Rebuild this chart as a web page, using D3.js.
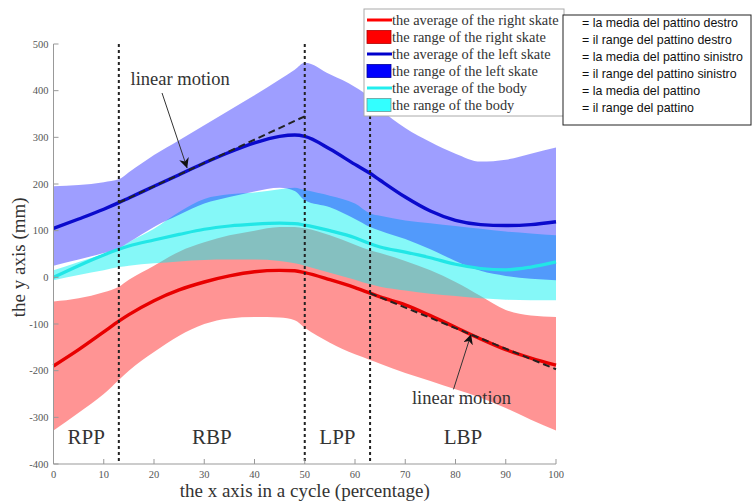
<!DOCTYPE html>
<html>
<head>
<meta charset="utf-8">
<script src="https://cdn.jsdelivr.net/npm/d3@7"></script>
<style>
  body { margin: 0; background: #fff; }
  svg { display: block; }
  .tick-label { font-family: "Liberation Serif", serif; font-size: 10.5px; fill: #555; }
  .title { font-family: "Liberation Serif", serif; font-size: 19px; fill: #333; }
  .phase { font-family: "Liberation Serif", serif; font-size: 21px; fill: #333; }
  .note { font-family: "Liberation Serif", serif; font-size: 18.5px; fill: #333; }
  .legend { font-family: "Liberation Serif", serif; font-size: 14.4px; fill: #333; }
  .trans { font-family: "Liberation Sans", sans-serif; font-size: 12.4px; fill: #111; }
</style>
</head>
<body>
<svg id="chart" width="753" height="504"></svg>
<script>
// percentage of the cycle
var xs = [0, 5, 10, 13, 15, 20, 25, 30, 35, 40, 45, 48, 50, 55, 60, 63, 65, 70, 75, 80, 85, 90, 95, 100];

// right skate (mm)
var rightAvg  = [-190, -155, -117, -94, -80, -50, -27, -10, 3, 12, 15, 14, 10, -5, -22, -34, -42, -59, -82, -107, -132, -155, -173, -188];
var rightHigh = [-52, -45, -32, -20, -5, 25, 55, 75, 90, 100, 108, 108, 105, 90, 70, 58, 52, 35, 15, -10, -40, -70, -82, -85];
var rightLow  = [-328, -290, -250, -220, -200, -160, -125, -100, -88, -85, -86, -92, -108, -140, -165, -177, -185, -205, -222, -240, -258, -280, -305, -328];

// left skate (mm)
var leftAvg  = [105, 125, 146, 160, 170, 195, 220, 245, 268, 288, 302, 305, 302, 275, 242, 223, 208, 172, 142, 122, 113, 111, 113, 119];
var leftHigh = [195, 198, 204, 210, 225, 262, 294, 326, 358, 390, 424, 445, 460, 435, 408, 385, 362, 320, 290, 265, 248, 252, 265, 278];
var leftLow  = [25, 38, 52, 62, 75, 108, 134, 158, 172, 184, 192, 185, 165, 150, 125, 108, 100, 82, 60, 35, 14, 3, -3, -6];

// body (mm)
var bodyAvg  = [0, 25, 48, 60, 67, 80, 92, 103, 110, 114, 116, 115, 112, 100, 85, 72, 65, 54, 42, 28, 19, 16, 22, 33];
var bodyHigh = [15, 33, 50, 62, 75, 104, 140, 168, 178, 182, 189, 192, 187, 175, 158, 137, 132, 122, 116, 110, 104, 98, 94, 90];
var bodyLow  = [-6, 5, 15, 22, 25, 30, 34, 37, 38, 38, 35, 30, 25, 10, -5, -15, -20, -28, -35, -40, -45, -48, -49, -49];

// phase boundaries and names
var phaseBounds = [13, 50, 63];
var phaseNames = ["RPP", "RBP", "LPP", "LBP"];
var phaseEdges = [0, 13, 50, 63, 100];

// linear motion fits
var fitLeft = [[13, 160], [50, 345]];
var fitRight = [[63, -34], [100, -197]];

var xTicks = [0, 10, 20, 30, 40, 50, 60, 70, 80, 90, 100];
var yTicks = [500, 400, 300, 200, 100, 0, -100, -200, -300, -400];

var legendItems = [
  {kind: "line", color: "#ff0000", label: "the average of the right skate"},
  {kind: "rect", color: "#ff0000", stroke: "#b00000", label: "the range of the right skate"},
  {kind: "line", color: "#0000cc", label: "the average of the left skate"},
  {kind: "rect", color: "#0000ff", stroke: "#000099", label: "the range of the left skate"},
  {kind: "line", color: "#22eeee", label: "the average of the body"},
  {kind: "rect", color: "#33ffff", stroke: "#6a9a9a", label: "the range of the body"}
];
var transItems = [
  "= la media del pattino destro",
  "= il range del pattino destro",
  "= la media del pattino sinistro",
  "= il range del pattino sinistro",
  "= la media del pattino",
  "= il range del pattino"
];

var svg = d3.select("#chart");

var x = d3.scaleLinear().domain([0, 100]).range([53.5, 556]);
var y = d3.scaleLinear().domain([-400, 500]).range([464, 44]);

function band(low, high) {
  return d3.area()
    .x(function(d, i) { return x(xs[i]); })
    .y0(function(d, i) { return y(low[i]); })
    .y1(function(d, i) { return y(high[i]); })
    .curve(d3.curveMonotoneX)(xs);
}
function avgLine(vals) {
  return d3.line()
    .x(function(d, i) { return x(xs[i]); })
    .y(function(d, i) { return y(vals[i]); })
    .curve(d3.curveMonotoneX)(xs);
}

// Range bands, red first so cyan and blue tint over it.
svg.append("path").attr("d", band(rightLow, rightHigh))
  .attr("fill", "#ff0000").attr("fill-opacity", 0.42);
svg.append("path").attr("d", band(bodyLow, bodyHigh))
  .attr("fill", "#00f0f0").attr("fill-opacity", 0.48);
svg.append("path").attr("d", band(leftLow, leftHigh))
  .attr("fill", "#0000ff").attr("fill-opacity", 0.38);

// Average lines.
svg.append("path").attr("d", avgLine(bodyAvg))
  .attr("fill", "none").attr("stroke", "#22e6e6").attr("stroke-width", 3.2);
svg.append("path").attr("d", avgLine(leftAvg))
  .attr("fill", "none").attr("stroke", "#0a0acc").attr("stroke-width", 3.4);
svg.append("path").attr("d", avgLine(rightAvg))
  .attr("fill", "none").attr("stroke", "#e80000").attr("stroke-width", 3.4);

// Linear motion fits.
[fitLeft, fitRight].forEach(function(f) {
  svg.append("line")
    .attr("x1", x(f[0][0])).attr("y1", y(f[0][1]))
    .attr("x2", x(f[1][0])).attr("y2", y(f[1][1]))
    .attr("stroke", "#222").attr("stroke-width", 2)
    .attr("stroke-dasharray", "7,4");
});

// Phase boundaries.
svg.selectAll(".phase-line").data(phaseBounds).enter().append("line")
  .attr("class", "phase-line")
  .attr("x1", function(d) { return x(d); })
  .attr("x2", function(d) { return x(d); })
  .attr("y1", y(500)).attr("y2", y(-400))
  .attr("stroke", "#222").attr("stroke-width", 2)
  .attr("stroke-dasharray", "3,3");

svg.selectAll(".phase").data(phaseNames).enter().append("text")
  .attr("class", "phase")
  .attr("x", function(d, i) { return x((phaseEdges[i] + phaseEdges[i + 1]) / 2); })
  .attr("y", y(-357))
  .attr("text-anchor", "middle")
  .text(function(d) { return d; });

// Axes.
var axisColor = "#999";
svg.append("line")
  .attr("x1", x(0)).attr("x2", x(0)).attr("y1", y(500)).attr("y2", y(-400))
  .attr("stroke", axisColor).attr("stroke-width", 1);
svg.append("line")
  .attr("x1", x(0)).attr("x2", x(100)).attr("y1", y(-400)).attr("y2", y(-400))
  .attr("stroke", axisColor).attr("stroke-width", 1);

svg.selectAll(".ytick").data(yTicks).enter().append("line")
  .attr("x1", x(0)).attr("x2", x(0) + 5)
  .attr("y1", function(d) { return y(d); }).attr("y2", function(d) { return y(d); })
  .attr("stroke", axisColor);
svg.selectAll(".ylab").data(yTicks).enter().append("text")
  .attr("class", "tick-label")
  .attr("x", x(0) - 5)
  .attr("y", function(d) { return y(d); })
  .attr("dy", "0.35em")
  .attr("text-anchor", "end")
  .text(function(d) { return d; });

svg.selectAll(".xtick").data(xTicks).enter().append("line")
  .attr("x1", function(d) { return x(d); }).attr("x2", function(d) { return x(d); })
  .attr("y1", y(-400)).attr("y2", y(-400) - 5)
  .attr("stroke", axisColor);
svg.selectAll(".xlab").data(xTicks).enter().append("text")
  .attr("class", "tick-label")
  .attr("x", function(d) { return x(d); })
  .attr("y", y(-400) + 14)
  .attr("text-anchor", "middle")
  .text(function(d) { return d; });

svg.append("text").attr("class", "title")
  .attr("x", x(50)).attr("y", 497)
  .attr("text-anchor", "middle")
  .text("the x axis in a cycle (percentage)");
svg.append("text").attr("class", "title")
  .attr("transform", "translate(25," + y(43) + ") rotate(-90)")
  .attr("text-anchor", "middle")
  .text("the y axis (mm)");

// "linear motion" notes with arrows.
svg.append("defs").append("marker")
  .attr("id", "head")
  .attr("viewBox", "0 0 10 10")
  .attr("refX", 10).attr("refY", 5)
  .attr("markerWidth", 10).attr("markerHeight", 10)
  .attr("markerUnits", "userSpaceOnUse")
  .attr("orient", "auto")
  .append("path").attr("d", "M0,0 L10,5 L0,10 L3,5 Z").attr("fill", "#111");

var notes = [
  {tx: 25.2, ty: 412, from: [21.6, 395], to: [26.6, 234]},
  {tx: 81.2, ty: -272, from: [79.6, -240], to: [83.1, -122]}
];
notes.forEach(function(n) {
  svg.append("text").attr("class", "note")
    .attr("x", x(n.tx)).attr("y", y(n.ty))
    .attr("text-anchor", "middle")
    .text("linear motion");
  svg.append("line")
    .attr("x1", x(n.from[0])).attr("y1", y(n.from[1]))
    .attr("x2", x(n.to[0])).attr("y2", y(n.to[1]))
    .attr("stroke", "#333").attr("stroke-width", 1)
    .attr("marker-end", "url(#head)");
});

// Legend.
var lg = svg.append("g").attr("transform", "translate(364,9)");
lg.append("rect").attr("width", 200).attr("height", 107)
  .attr("fill", "#fff").attr("stroke", "#aaa");
legendItems.forEach(function(it, i) {
  var cy = 11 + i * 17;
  if (it.kind === "line") {
    lg.append("line").attr("x1", 3).attr("x2", 28).attr("y1", cy).attr("y2", cy)
      .attr("stroke", it.color).attr("stroke-width", 3);
  } else {
    lg.append("rect").attr("x", 3).attr("y", cy - 6.5).attr("width", 24).attr("height", 13)
      .attr("fill", it.color).attr("stroke", it.stroke).attr("stroke-width", 0.8);
  }
  lg.append("text").attr("class", "legend")
    .attr("x", 28).attr("y", cy).attr("dy", "0.35em")
    .text(it.label);
});

// Italian translation box.
var tb = svg.append("g").attr("transform", "translate(563,15)");
tb.append("rect").attr("width", 188).attr("height", 110)
  .attr("fill", "#fff").attr("stroke", "#222").attr("stroke-width", 1);
transItems.forEach(function(t, i) {
  tb.append("text").attr("class", "trans")
    .attr("x", 19).attr("y", 8 + i * 17).attr("dy", "0.35em")
    .text(t);
});
</script>
</body>
</html>
